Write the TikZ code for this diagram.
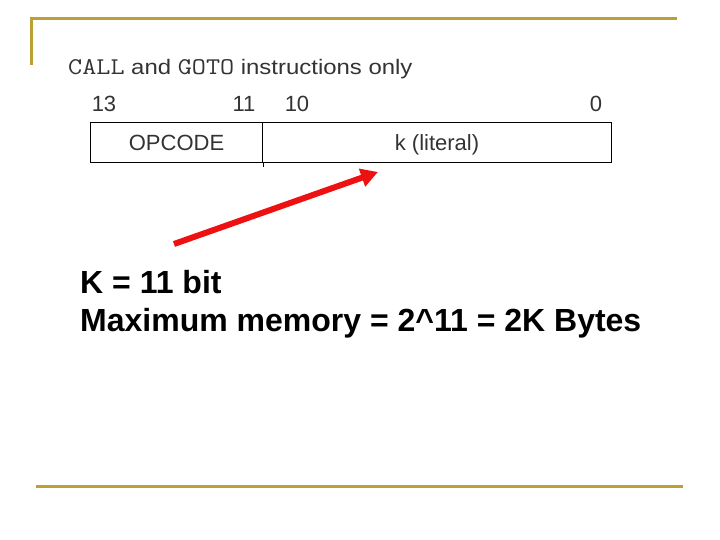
\documentclass[tikz,border=0pt]{standalone}
\usepackage{fontspec}
\setmainfont{Liberation Sans}
\usetikzlibrary{positioning, arrows.meta}
\definecolor{slidegold}{HTML}{BDA033}
\definecolor{arrowred}{HTML}{EE1111}
\definecolor{figgray}{HTML}{333333}

\begin{document}
\begin{tikzpicture}[x=1pt, y=-1pt,
          field/.style={draw=black, line width=1pt, minimum height=40pt, inner sep=0pt, text=figgray, font=\fontsize{22}{22}\selectfont, text height=20pt, text depth=4pt, anchor=north west},
          bitno/.style={font=\fontsize{22}{22}\selectfont, text=figgray, anchor=base, inner sep=0pt},
          big/.style={font=\fontsize{32}{32}\selectfont\bfseries, anchor=base west, inner sep=0pt}]
        \useasboundingbox (0,0) rectangle (720,540);
        % slide rules
        \draw[slidegold, line width=3pt] (31,65) -- (31,19) -- (677,19);
        \draw[slidegold, line width=3pt] (36,486) -- (683,486);
        % instruction format
        \node[anchor=base west, inner sep=0pt, text=figgray, xscale=1.14, font=\fontsize{21}{21}\selectfont] (title) at (68,75) {{\ttfamily\fontsize{24}{24}\selectfont CALL} and {\ttfamily\fontsize{24}{24}\selectfont GOTO} instructions only};
        \node[field, minimum width=172pt] (op) at (90,122) {OPCODE};
        \node[field, minimum width=349pt] (lit) at (262,122) {k (literal)};
        \draw[line width=1pt] (op.south east) -- ++(0,4);
        \node[bitno] (b13) at (104,112) {13};
        \node[bitno] (b11) at (244,112) {11};
        \node[bitno] (b10) at (297,112) {10};
        \node[bitno] (b0) at (596,112) {0};
        % note
        \coordinate (tail) at (174,244);
        \coordinate (tip) at (378,172);
        \draw[-{Triangle[length=17pt, width=18pt]}, arrowred, line width=6pt] (tail) -- (tip);
        \node[big] (kbits) at (80,293) {K = 11 bit};
        \node[big] (maxmem) at (80,331) {Maximum memory = 2\^{}11 = 2K Bytes};
      \end{tikzpicture}
\end{document}
